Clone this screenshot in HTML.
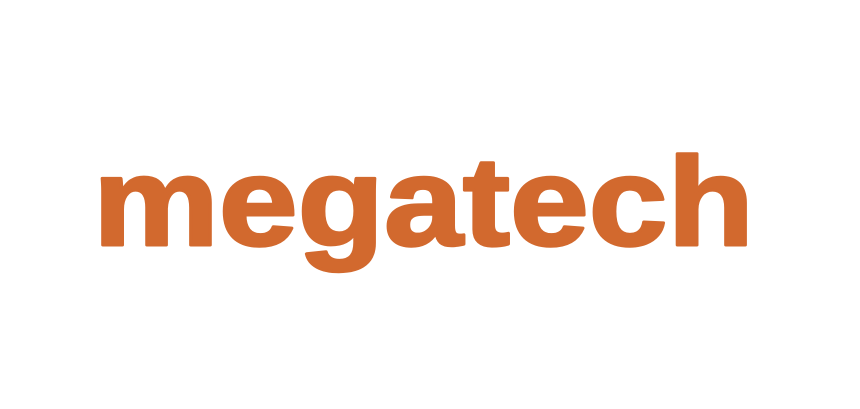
<!DOCTYPE html>
<html>
<head>
<meta charset="utf-8">
<style>
  html,body{margin:0;padding:0;background:#fff;}
  body{width:860px;height:404px;overflow:hidden;}
</style>
</head>
<body>
<svg width="860" height="404" viewBox="0 0 860 404" xmlns="http://www.w3.org/2000/svg">
  <rect x="0" y="0" width="860" height="404" fill="#ffffff"/>
  <text x="93" y="245" textLength="661" lengthAdjust="spacingAndGlyphs" font-family="'Liberation Sans', 'DejaVu Sans', sans-serif" font-weight="bold" font-size="126" fill="#D2692E" stroke="#D2692E" stroke-width="3" stroke-linejoin="round">megatech</text>
</svg>
</body>
</html>
